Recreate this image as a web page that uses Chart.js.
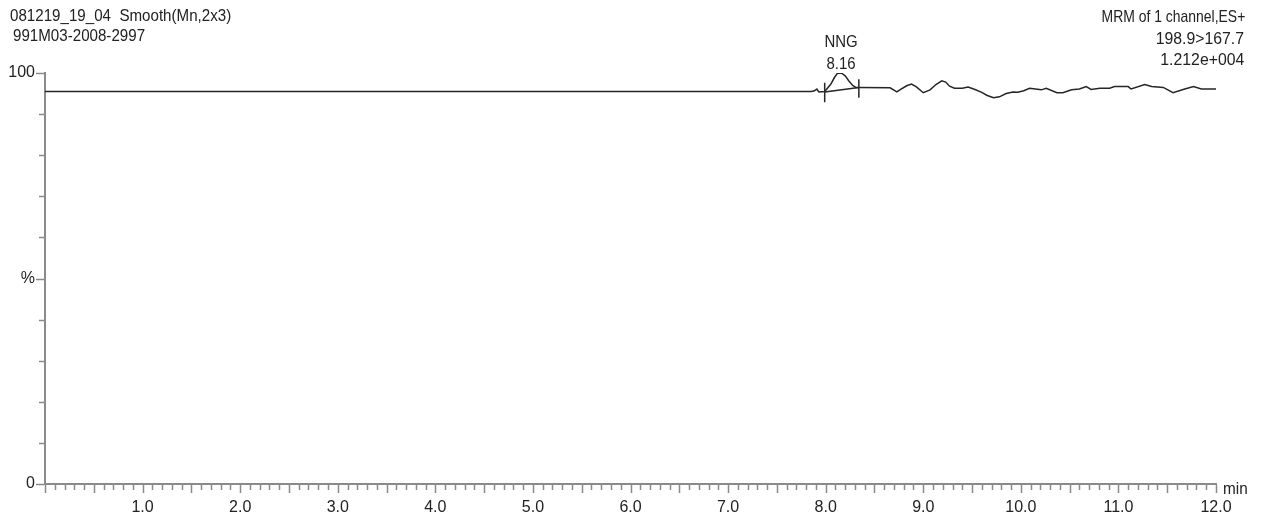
<!DOCTYPE html>
<html>
<head>
<meta charset="utf-8">
<script src="https://cdn.jsdelivr.net/npm/chart.js@4"></script>
<style>
  html, body { margin:0; padding:0; background:#fff; }
  #wrap { position:relative; width:1262px; height:523px; overflow:hidden; }
  .t { position:absolute; font-family:'Liberation Sans', Arial, sans-serif; font-size:17px; line-height:17px; color:#222; white-space:pre; }
  .l { transform-origin:left top; }
  .r { transform-origin:right top; text-align:right; }
  .c { transform-origin:center top; text-align:center; }
</style>
</head>
<body>
<div id="wrap">
  <canvas id="chrom"></canvas>
  <div class="t l" style="left:10px;top:7px;transform:scaleX(0.89)">081219_19_04  Smooth(Mn,2x3)</div>
  <div class="t l" style="left:13px;top:27px;transform:scaleX(0.89)">991M03-2008-2997</div>
  <div class="t r" style="right:17px;top:8px;transform:scaleX(0.82)">MRM of 1 channel,ES+</div>
  <div class="t r" style="right:18px;top:30px;transform:scaleX(0.93)">198.9&gt;167.7</div>
  <div class="t r" style="right:18px;top:51px;transform:scaleX(0.93)">1.212e+004</div>
  <div class="t l" style="left:1223px;top:480px;transform:scaleX(0.9)">min</div>
  <div id="pkName" class="t c" style="width:60px;transform:scaleX(0.88)"></div>
  <div id="pkRt" class="t c" style="width:60px;transform:scaleX(0.88)"></div>
</div>
<script>
// retention time (min) / intensity (%)
const rtMin = [0, 7.85, 7.88, 7.91, 7.93, 7.99, 8.05, 8.09, 8.12, 8.16, 8.20, 8.24, 8.28, 8.31, 8.34,
  8.66, 8.73, 8.76, 8.83, 8.88, 8.93, 9.00, 9.07, 9.13, 9.19, 9.23, 9.27, 9.32, 9.40, 9.46, 9.53,
  9.60, 9.65, 9.72, 9.78, 9.85, 9.92, 9.97, 10.03, 10.09, 10.21, 10.26, 10.37, 10.43, 10.52, 10.60,
  10.67, 10.72, 10.81, 10.91, 10.96, 11.10, 11.13, 11.27, 11.34, 11.46, 11.56, 11.68, 11.77, 11.85, 12.00];
const pctInt = [95.5, 95.5, 95.6, 96.1, 95.4, 95.5, 97.2, 98.9, 99.9, 100.0, 99.3, 98.0, 96.9, 96.5, 96.5,
  96.4, 95.4, 95.9, 96.9, 97.3, 96.6, 95.2, 95.9, 97.2, 98.1, 97.8, 96.8, 96.3, 96.3, 96.6, 96.0,
  95.3, 94.6, 94.0, 94.2, 95.0, 95.4, 95.3, 95.7, 96.3, 95.9, 96.3, 95.2, 95.2, 95.9, 96.1,
  96.7, 96.0, 96.3, 96.3, 96.7, 96.7, 96.1, 97.2, 96.7, 96.5, 95.2, 96.1, 96.7, 96.1, 96.1];

// integration baseline + start/end marks
const intRt  = [7.99, 8.34];
const intPct = [95.4, 96.5];
const markRt  = [7.99, 7.99, null, 8.34, 8.34];
const markPct = [97.6, 92.9, null, 98.5, 94.0];

// peak label
const peakName = 'NNG';
const peakRt = 8.16;
const peakTop = 100;

const xLabels = ['1.0','2.0','3.0','4.0','5.0','6.0','7.0','8.0','9.0','10.0','11.0','12.0'];
const yLabels = { 100:'100', 50:'%', 0:'0' };

const pts = (xs, ys) => xs.map((x,i) => ({ x: x, y: ys[i] }));
const AXIS = '#8a8a8a';

const tickMarks = {
  id:'tickMarks',
  afterDraw(chart){
    const {ctx, scales:{x, y}} = chart;
    ctx.save();
    ctx.strokeStyle = AXIS;
    ctx.lineWidth = 1.5;
    const yb = y.getPixelForValue(0) + 1;
    for(let i=0;i<=120;i++){
      const px = Math.round(x.getPixelForValue(i/10)) + 0.5;
      const len = (i%5===0) ? 8 : 5;
      ctx.beginPath(); ctx.moveTo(px, yb); ctx.lineTo(px, yb+len); ctx.stroke();
    }
    const xl = x.getPixelForValue(0) - 1;
    for(let v=0;v<=100;v+=10){
      const py = Math.round(y.getPixelForValue(v)) + 0.5;
      const len = (v%50===0) ? 8 : 5;
      ctx.beginPath(); ctx.moveTo(xl, py); ctx.lineTo(xl-len, py); ctx.stroke();
    }
    ctx.restore();
    // peak label follows the scales
    const cx = x.getPixelForValue(peakRt), top = y.getPixelForValue(peakTop);
    const n = document.getElementById('pkName'), r = document.getElementById('pkRt');
    n.textContent = peakName; r.textContent = peakRt.toFixed(2);
    n.style.left = (cx-30)+'px'; n.style.top = (top-40)+'px';
    r.style.left = (cx-30)+'px'; r.style.top = (top-18)+'px';
  }
};

const c = document.getElementById('chrom');
c.width = 1262; c.height = 523;
new Chart(c, {
  type:'line',
  data:{ datasets:[
    { data: pts(rtMin, pctInt), borderColor:'#262626', borderWidth:1.5, pointRadius:0, tension:0 },
    { data: pts(intRt, intPct), borderColor:'#262626', borderWidth:1.5, pointRadius:0, tension:0 },
    { data: pts(markRt, markPct), borderColor:'#262626', borderWidth:1.5, pointRadius:0, spanGaps:false }
  ]},
  options:{
    responsive:false,
    animation:false,
    events:[],
    layout:{ padding:{ left:0, top:73, right:46, bottom:0 } },
    plugins:{ legend:{ display:false }, tooltip:{ enabled:false } },
    scales:{
      x:{
        type:'linear', min:0, max:12,
        grid:{ display:false, drawTicks:false },
        border:{ display:true, color:AXIS, width:2 },
        ticks:{ stepSize:1, autoSkip:false, maxRotation:0, padding:14, color:'#222',
          font:{ family:'Liberation Sans, Arial, sans-serif', size:16 },
          callback:(v)=> v>=1 ? xLabels[Math.round(v)-1] : '' },
        afterFit:(s)=>{ s.height = 39; }
      },
      y:{
        min:0, max:100,
        grid:{ display:false, drawTicks:false },
        border:{ display:true, color:AXIS, width:2 },
        ticks:{ stepSize:10, autoSkip:false, padding:10, color:'#222',
          font:{ family:'Liberation Sans, Arial, sans-serif', size:16 },
          callback:(v)=> yLabels[v] !== undefined ? yLabels[v] : '' },
        afterFit:(s)=>{ s.width = 45; }
      }
    }
  },
  plugins:[tickMarks]
});
</script>
</body>
</html>
